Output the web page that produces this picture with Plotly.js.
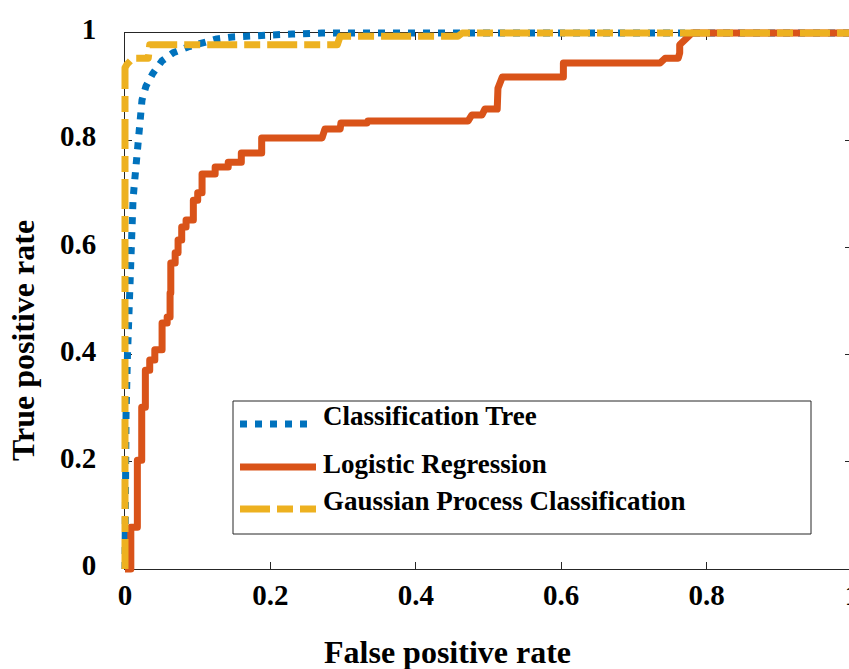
<!DOCTYPE html>
<html>
<head>
<meta charset="utf-8">
<script src="https://cdn.plot.ly/plotly-3.0.1.min.js"></script>
<style>
  html, body { margin: 0; padding: 0; overflow: hidden; background: #fff; }
  #chart { width: 866px; height: 669px; }
  .scatterlayer path.js-line { stroke-linejoin: round; }
</style>
</head>
<body>
<div id="chart"></div>
<script>
// ROC curves (false positive rate vs. true positive rate) for three classifiers.
const treeFPR = [0, 0, 0.0007, 0.0014, 0.0034, 0.0055, 0.0083, 0.0096, 0.011, 0.0124, 0.0138, 0.0151,
                 0.0165, 0.0193, 0.022, 0.0234, 0.0289, 0.0385, 0.0509, 0.066, 0.0867, 0.1073, 0.1265,
                 0.1472, 0.1884, 0.2297, 0.271, 1];
const treeTPR = [0, 0.063, 0.175, 0.287, 0.399, 0.511, 0.586, 0.642, 0.688, 0.711, 0.735, 0.763,
                 0.791, 0.828, 0.851, 0.875, 0.901, 0.925, 0.948, 0.963, 0.974, 0.981, 0.989,
                 0.9925, 0.9963, 0.9981, 1, 1];

const logitFPR = [0, 0.008, 0.008, 0.017, 0.017, 0.023, 0.023, 0.028, 0.028, 0.034, 0.034, 0.041, 0.041,
                  0.051, 0.051, 0.058, 0.058, 0.062, 0.062, 0.063, 0.063, 0.069, 0.069, 0.073, 0.073,
                  0.078, 0.078, 0.084, 0.084, 0.094, 0.094, 0.100, 0.100, 0.106, 0.106, 0.124, 0.124,
                  0.142, 0.142, 0.160, 0.160, 0.188, 0.188, 0.271, 0.275, 0.296, 0.297, 0.333, 0.334,
                  0.472, 0.477, 0.491, 0.495, 0.512, 0.513, 0.519, 0.603, 0.603, 0.736, 0.743, 0.761,
                  0.763, 0.763, 0.780, 1];
const logitTPR = [0, 0, 0.078, 0.078, 0.203, 0.203, 0.302, 0.302, 0.371, 0.371, 0.390, 0.390, 0.409,
                  0.409, 0.459, 0.459, 0.470, 0.470, 0.515, 0.515, 0.571, 0.571, 0.590, 0.590, 0.614,
                  0.614, 0.638, 0.638, 0.651, 0.651, 0.688, 0.688, 0.702, 0.702, 0.737, 0.737, 0.750,
                  0.750, 0.759, 0.759, 0.776, 0.776, 0.804, 0.804, 0.821, 0.821, 0.832, 0.832, 0.836,
                  0.836, 0.847, 0.847, 0.858, 0.858, 0.897, 0.918, 0.918, 0.944, 0.944, 0.953, 0.953,
                  0.963, 0.978, 1, 1];

const gpcFPR = [0, 0, 0.003, 0.011, 0.032, 0.034, 0.292, 0.296, 0.458, 0.464, 1];
const gpcTPR = [0, 0.935, 0.942, 0.953, 0.953, 0.978, 0.978, 0.994, 0.994, 1, 1];

const seriesNames = ['Classification Tree', 'Logistic Regression', 'Gaussian Process Classification'];
const tickVals = [0, 0.2, 0.4, 0.6, 0.8, 1];
const tickText = ['0', '0.2', '0.4', '0.6', '0.8', '1'];
const xTitle = 'False positive rate';
const yTitle = 'True positive rate';

// ---- geometry (pixels) ----
const W = 866, H = 669;
const M = { l: 117, r: 6, t: 25, b: 92 };
const PW = W - M.l - M.r, PH = H - M.t - M.b;
const FRAME = { left: 125, right: 852, bottom: 569, top: 33 };
const FW = FRAME.right - FRAME.left, FH = FRAME.bottom - FRAME.top;
const PAD = 8; // the curves live on a slightly larger, hidden axis pair so thick strokes on the frame are not cut

const px = x => (x - M.l) / PW;
const py = y => (H - M.b - y) / PH;

const COLORS = { tree: '#0072BD', logit: '#D95319', gpc: '#EDB120' };
const DASH = { tree: '7px,8px', gpc: '30px,7px,16px,7px' };
const LW = 7;
const SERIF = 'Liberation Serif, Times New Roman, serif';

const traces = [
  // frame subplot (axes only)
  { x: [], y: [], xaxis: 'x', yaxis: 'y', mode: 'lines', showlegend: false, hoverinfo: 'skip' },
  { x: treeFPR, y: treeTPR, xaxis: 'x2', yaxis: 'y2', mode: 'lines', name: seriesNames[0],
    line: { color: COLORS.tree, width: LW, dash: DASH.tree } },
  { x: logitFPR, y: logitTPR, xaxis: 'x2', yaxis: 'y2', mode: 'lines', name: seriesNames[1],
    line: { color: COLORS.logit, width: LW } },
  { x: gpcFPR, y: gpcTPR, xaxis: 'x2', yaxis: 'y2', mode: 'lines', name: seriesNames[2],
    line: { color: COLORS.gpc, width: LW, dash: DASH.gpc } }
];

const frameAxis = {
  range: [0, 1], tickvals: tickVals, ticktext: tickText,
  ticks: 'inside', ticklen: 7, tickwidth: 1, tickcolor: '#262626',
  showline: true, linecolor: '#262626', linewidth: 1, mirror: 'ticks',
  showgrid: false, zeroline: false, fixedrange: true, layer: 'below traces',
  tickfont: { family: SERIF, size: 29, color: '#000', weight: 'bold' }
};

// legend drawn as a framed box with long line samples
const LEG = { x0: 233, x1: 811, y0: 401, y1: 534, textX: 321,
              textY: [416, 464, 501], lineY: [424, 467, 509], lineX0: 240, lineX1: [308, 316, 316] };
const legendKeys = ['tree', 'logit', 'gpc'];

const shapes = [
  { type: 'rect', xref: 'paper', yref: 'paper', layer: 'above',
    x0: px(LEG.x0), x1: px(LEG.x1), y0: py(LEG.y1), y1: py(LEG.y0),
    line: { color: '#262626', width: 1 }, fillcolor: '#fff' }
];
legendKeys.forEach((k, i) => {
  shapes.push({ type: 'line', xref: 'paper', yref: 'paper', layer: 'above',
    x0: px(LEG.lineX0), x1: px(LEG.lineX1[i]), y0: py(LEG.lineY[i]), y1: py(LEG.lineY[i]),
    line: { color: COLORS[k], width: LW, dash: DASH[k] || 'solid' } });
});

const annotations = [
  { text: xTitle, xref: 'paper', yref: 'paper', x: px(447), y: py(652), xanchor: 'center', yanchor: 'middle',
    showarrow: false, font: { family: SERIF, size: 32, color: '#000', weight: 'bold' } },
  { text: yTitle, xref: 'paper', yref: 'paper', x: px(23), y: py(340), xanchor: 'center', yanchor: 'middle',
    textangle: -90, showarrow: false, font: { family: SERIF, size: 32, color: '#000', weight: 'bold' } }
];
seriesNames.forEach((name, i) => {
  annotations.push({ text: name, xref: 'paper', yref: 'paper', x: px(LEG.textX), y: py(LEG.textY[i]),
    xanchor: 'left', yanchor: 'middle', showarrow: false,
    font: { family: SERIF, size: 27, color: '#000', weight: 'bold' } });
});

const layout = {
  width: W, height: H, margin: M,
  paper_bgcolor: '#fff', plot_bgcolor: 'rgba(0,0,0,0)', showlegend: false,
  xaxis: Object.assign({}, frameAxis, { anchor: 'y', ticklabelstandoff: 0,
    domain: [px(FRAME.left), px(FRAME.right)] }),
  yaxis: Object.assign({}, frameAxis, { anchor: 'x', ticklabelstandoff: 22, ticklabelshift: -4,
    domain: [py(FRAME.bottom), py(FRAME.top)] }),
  xaxis2: { anchor: 'y2', domain: [0, 1], visible: false, fixedrange: true,
    range: [-PAD / FW, 1 + PAD / FW] },
  yaxis2: { anchor: 'x2', domain: [0, 1], visible: false, fixedrange: true,
    range: [-PAD / FH, 1 + PAD / FH] },
  shapes: shapes,
  annotations: annotations
};

Plotly.newPlot('chart', traces, layout, { displayModeBar: false, responsive: false });
</script>
</body>
</html>
